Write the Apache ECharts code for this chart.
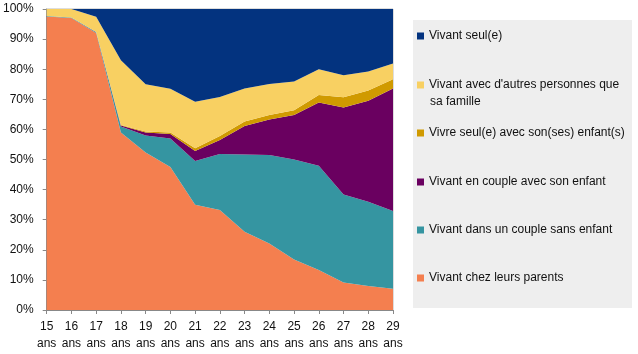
<!DOCTYPE html>
<html>
<head>
<meta charset="utf-8">
<script src="https://cdn.jsdelivr.net/npm/echarts@6/dist/echarts.min.js"></script>
<style>
  html, body { margin: 0; padding: 0; background: #fff; }
  #chart { width: 638px; height: 354px; }
</style>
</head>
<body>
<div id="chart"></div>
<script>
// Données (en %)
const ages = ['15', '16', '17', '18', '19', '20', '21', '22', '23', '24', '25', '26', '27', '28', '29'];
const chezParents   = [97.5, 97.0, 92.0, 59.0, 52.3, 47.5, 35.0, 33.2, 26.0, 22.1, 16.8, 13.3, 9.1, 8.0, 7.1];
const coupleSans    = [0.2, 0.2, 0.3, 2.0, 5.7, 9.5, 14.5, 18.6, 25.7, 29.4, 33.2, 34.6, 29.3, 28.0, 25.8];
const coupleAvec    = [0.0, 0.0, 0.1, 0.3, 1.0, 1.5, 3.3, 4.7, 9.4, 11.8, 14.8, 21.0, 28.9, 33.5, 40.7];
const seulEnfants   = [0.0, 0.0, 0.0, 0.2, 0.3, 0.5, 0.9, 1.3, 1.5, 1.5, 1.6, 2.5, 3.4, 3.4, 3.1];
const autres        = [2.3, 2.8, 5.0, 21.5, 15.7, 14.5, 15.5, 13.0, 11.0, 10.3, 9.5, 8.6, 7.3, 6.3, 5.2];
const seul          = [0.0, 0.0, 2.6, 17.0, 25.0, 26.5, 30.8, 29.2, 26.4, 24.9, 24.1, 20.0, 22.0, 20.8, 18.1];

const names = [
    'Vivant chez leurs parents',
    'Vivant dans un couple sans enfant',
    'Vivant en couple avec son enfant',
    'Vivre seul(e) avec son(ses) enfant(s)',
    "Vivant avec d'autres personnes que sa famille",
    'Vivant seul(e)'
];
const values = [chezParents, coupleSans, coupleAvec, seulEnfants, autres, seul];
const colors = ['#F47F4F', '#3595A1', '#6A0060', '#D09A00', '#F8D062', '#03337F'];

const font = 'Liberation Sans, Arial, sans-serif';

// légende : une par élément pour placer chaque ligne comme sur l'original
const legendTops = [30, 79, 127, 176, 224, 272];
const legendOrder = [5, 4, 3, 2, 1, 0];
const legends = legendOrder.map((idx, i) => ({
    data: [names[idx]],
    left: 417,
    top: legendTops[i],
    orient: 'vertical',
    icon: 'rect',
    itemWidth: 7,
    itemHeight: 7,
    itemGap: 0,
    padding: 0,
    selectedMode: false,
    textStyle: { fontFamily: font, fontSize: 12, color: '#111' },
    formatter: n => n === names[4] ? "Vivant avec d'autres personnes que" : n
}));

let chart = echarts.init(document.getElementById('chart'));
chart.setOption({
    animation: false,
    graphic: [
        { type: 'rect', left: 413, top: 20, shape: { width: 219, height: 288 },
          style: { fill: '#EEEEEE' }, z: -10 },
        { type: 'text', left: 430, top: 96,
          style: { text: 'sa famille', font: '12px ' + font, fill: '#111' } }
    ],
    legend: legends,
    grid: { left: 44, right: 245, top: 9, bottom: 44, show: true, borderColor: '#BBBBBB', borderWidth: 1 },
    xAxis: {
        type: 'category',
        data: ages,
        boundaryGap: false,
        axisLine: { lineStyle: { color: '#888888' } },
        axisTick: { show: true, length: 4, lineStyle: { color: '#888888' } },
        axisLabel: {
            interval: 0,
            margin: 8,
            fontFamily: font,
            fontSize: 12,
            color: '#111',
            lineHeight: 17,
            formatter: v => v + '\nans'
        }
    },
    yAxis: {
        type: 'value',
        min: 0,
        max: 100,
        interval: 10,
        axisLine: { show: true, lineStyle: { color: '#888888' } },
        axisTick: { show: true, length: 4, lineStyle: { color: '#888888' } },
        splitLine: { show: false },
        axisLabel: { margin: 13, fontFamily: font, fontSize: 12, color: '#111', formatter: '{value}%' }
    },
    series: names.map((n, i) => ({
        name: n,
        type: 'line',
        stack: 'total',
        data: values[i],
        symbol: 'none',
        lineStyle: { width: 0 },
        itemStyle: { color: colors[i] },
        areaStyle: { color: colors[i], opacity: 1 }
    }))
});
</script>
</body>
</html>
